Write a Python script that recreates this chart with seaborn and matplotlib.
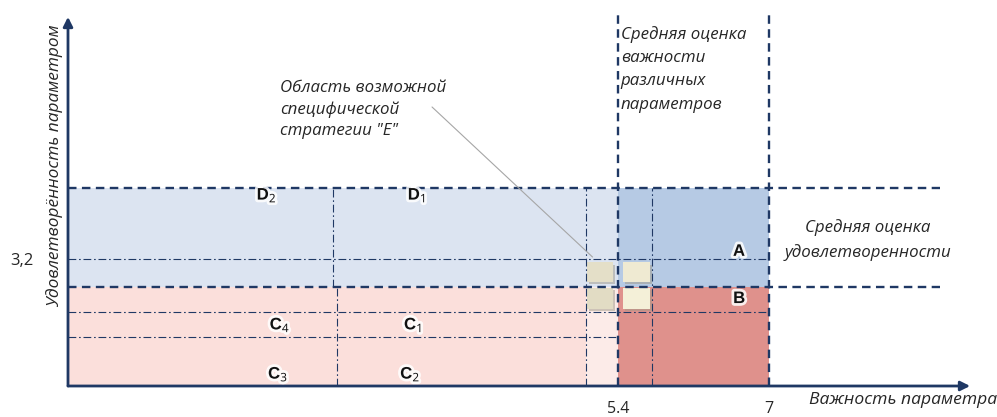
import matplotlib
matplotlib.use("Agg")
import matplotlib.pyplot as plt
import matplotlib.patheffects as pe
from matplotlib.patches import Rectangle
import seaborn as sns

# axis values
importance_mid = 5.4        # средняя оценка важности
importance_max = 7.0
satisfaction_top = 5.0
satisfaction_mid = 2.5      # средняя оценка удовлетворенности
x_ticks = [5.4, 7.0]
x_tick_labels = ["5.4", "7"]
y_ticks = [3.2]
y_tick_labels = ["3,2"]

# inner sub-division lines of the zones
upper_split_x = [2.38, 5.06, 5.76]
lower_split_x = [2.42, 5.06, 5.76]
upper_split_y = [3.2]
lower_split_y = [1.86, 1.23]

# zone names
zone_letter = ["D", "D", "A", "B", "C", "C", "C", "C"]
zone_sub = ["2", "1", "", "", "4", "1", "3", "2"]
zone_x = [1.68, 3.27, 6.69, 6.69, 1.82, 3.23, 1.80, 3.20]
zone_y = [4.81, 4.81, 3.38, 2.19, 1.54, 1.54, 0.30, 0.30]

# area of strategy "E" (four small squares)
e_x0 = [5.07, 5.45, 5.07, 5.45]
e_x1 = [5.35, 5.74, 5.35, 5.74]
e_y0 = [2.62, 2.62, 1.94, 1.94]
e_y1 = [3.12, 3.12, 2.47, 2.47]

sns.set_theme(style="white")
plt.rcParams["font.family"] = ["Open Sans", "DejaVu Sans"]
plt.rcParams["mathtext.fontset"] = "custom"
plt.rcParams["mathtext.bf"] = "Liberation Sans:bold"
plt.rcParams["mathtext.rm"] = "Liberation Sans"

navy = "#1f3864"
x_left = 5.4 - 550 / 94.4
x_right = 5.4 + 367 / 94.4
y_top = 375 / 39.69

fig = plt.figure(figsize=(9.97, 4.17), dpi=100)
ax = fig.add_axes([68 / 997, 31 / 417, 917 / 997, 375 / 417])
ax.set_xlim(x_left, x_right)
ax.set_ylim(0, y_top)
for s in ax.spines.values():
    s.set_visible(False)

# coloured zones
ax.add_patch(Rectangle((x_left, satisfaction_mid), importance_mid - x_left,
                       satisfaction_top - satisfaction_mid, color="#dce4f1", lw=0))
ax.add_patch(Rectangle((importance_mid, satisfaction_mid), importance_max - importance_mid,
                       satisfaction_top - satisfaction_mid, color="#b6cae4", lw=0))
ax.add_patch(Rectangle((x_left, 0), importance_mid - x_left, satisfaction_mid,
                       color="#fbdfdb", lw=0))
ax.add_patch(Rectangle((lower_split_x[1], 0), importance_mid - lower_split_x[1], satisfaction_mid,
                       color="#fcebe8", lw=0))
ax.add_patch(Rectangle((importance_mid, 0), importance_max - importance_mid, satisfaction_mid,
                       color="#df918c", lw=0))

# dash-dot sub lines
dd = dict(color=navy, lw=0.8, ls=(0, (7, 2.5, 1.5, 2.5)))
ax.hlines(upper_split_y, x_left, importance_max, **dd)
ax.hlines(lower_split_y[0], x_left, importance_max, **dd)
ax.hlines(lower_split_y[1], x_left, importance_mid, **dd)
ax.vlines(upper_split_x[0], satisfaction_mid, satisfaction_top, **dd)
ax.vlines(lower_split_x[0], 0, satisfaction_mid, **dd)
ax.vlines(upper_split_x[1:], 0, satisfaction_top, **dd)

# dashed averages
dash = dict(color=navy, lw=1.7, ls=(0, (3.6, 2.3)))
ax.hlines([satisfaction_top, satisfaction_mid], x_left, 8.81, **dash)
ax.vlines([importance_mid, importance_max], 0, 9.4, **dash)

# strategy E squares
for a, b, c, d, col in zip(e_x0, e_x1, e_y0, e_y1, ["#e4dfc8", "#efead2", "#e2dcc4", "#f4f0d8"]):
    ax.add_patch(Rectangle((a + 0.02, c - 0.06), b - a, d - c, color="#a09a88", alpha=0.5, lw=0))
    ax.add_patch(Rectangle((a, c), b - a, d - c, color=col, lw=0))

# callout
ax.plot([3.43, 5.13], [7.03, 3.25], color="#a6a6a6", lw=0.8)

# axes with arrows
ax.annotate("", xy=(9.13, 0), xytext=(x_left, 0), annotation_clip=False,
            arrowprops=dict(arrowstyle="-|>", color=navy, lw=2, mutation_scale=14, shrinkA=0, shrinkB=0))
ax.annotate("", xy=(x_left, 9.3), xytext=(x_left, 0), annotation_clip=False,
            arrowprops=dict(arrowstyle="-|>", color=navy, lw=2, mutation_scale=14, shrinkA=0, shrinkB=0))

# zone letters
glow = [pe.withStroke(linewidth=4, foreground="white", alpha=0.85)]
for lt, sb, x, y in zip(zone_letter, zone_sub, zone_x, zone_y):
    s = r"$\mathbf{%s}$" % lt if not sb else r"$\mathbf{%s}_{\mathregular{%s}}$" % (lt, sb)
    ax.text(x, y, s, fontsize=12, ha="center", va="center", color="#111111", path_effects=glow)

ital = dict(fontsize=12.2, style="italic", color="#262626")
ax.text(1.82, 6.97, "Область возможной\nспецифической\nстратегии \"E\"",
        ha="left", va="center", linespacing=1.45, **ital)
ax.text(5.43, 7.98, "Средняя оценка\nважности\nразличных\nпараметров",
        ha="left", va="center", linespacing=1.6, **ital)
ax.text(8.05, 3.68, "Средняя оценка\nудовлетворенности",
        ha="center", va="center", linespacing=1.6, **ital)

ax.set_xticks(x_ticks, x_tick_labels, fontsize=11.5, color="#262626")
ax.set_yticks(y_ticks, y_tick_labels, fontsize=12, color="#262626")
ax.tick_params(axis="x", length=0, pad=11)
ax.tick_params(axis="y", length=0, pad=25)

ax.set_xlabel("Важность параметра", fontsize=12.6, style="italic", color="#262626", va="center")
ax.xaxis.set_label_coords((903 - 68) / 917, -14 / 375)
ax.set_ylabel("Удовлетворённость параметром", fontsize=12.4, style="italic", color="#262626", va="center")
ax.yaxis.set_label_coords(-13 / 917, 220 / 375)

fig.savefig("out.png", dpi=100)
